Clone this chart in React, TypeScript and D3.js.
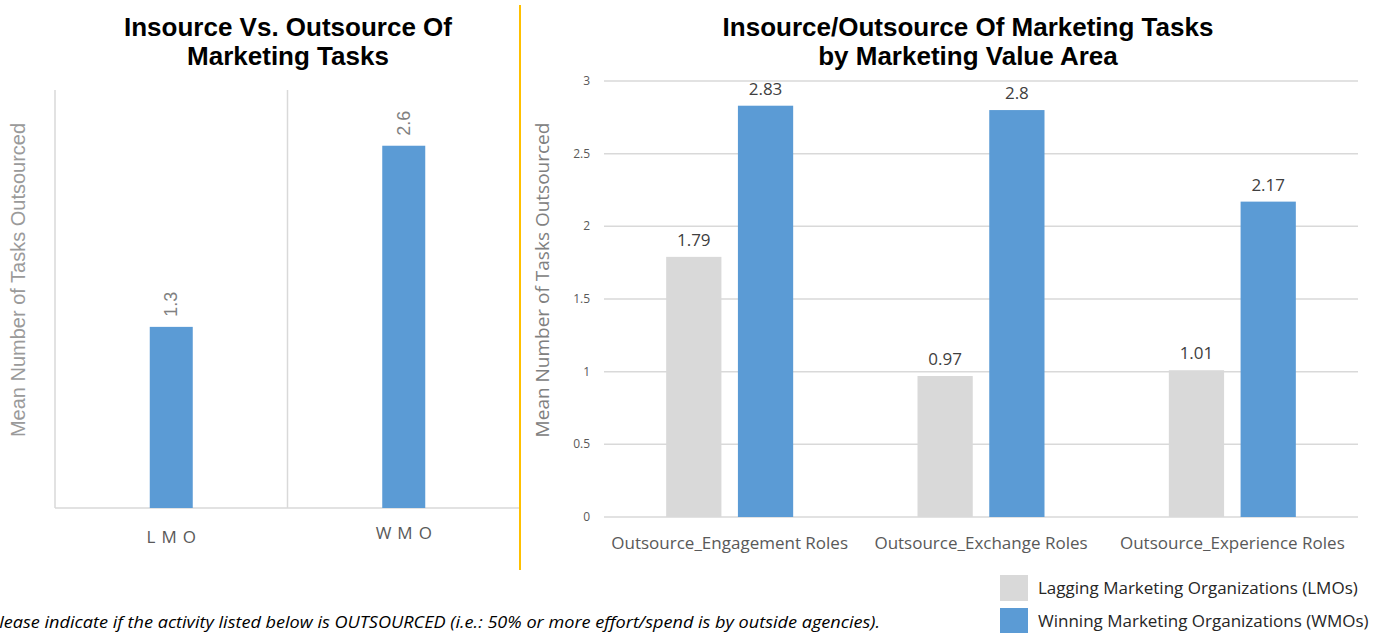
import * as d3 from 'd3';

const leftCategories = ['LMO', 'WMO'];
const leftValues = [1.3, 2.6];

const rightCategories = ['Outsource_Engagement Roles', 'Outsource_Exchange Roles', 'Outsource_Experience Roles'];
const lmoValues = [1.79, 0.97, 1.01];
const wmoValues = [2.83, 2.8, 2.17];
const seriesNames = ['Lagging Marketing Organizations (LMOs)', 'Winning Marketing Organizations (WMOs)'];
const yTicks = [0, 0.5, 1, 1.5, 2, 2.5, 3];

const BLUE = '#5B9BD5';
const GRAY = '#D9D9D9';
const TXT = '#595959';

const App = () => {
  // left chart
  const lx = d3.scaleBand().domain(leftCategories).range([55, 520]);
  const ly = d3.scaleLinear().domain([0, 3]).range([508, 90]);
  const leftBarW = 43;

  // right chart
  const rx = d3.scaleBand().domain(rightCategories).range([604, 1358]);
  const inner = d3.scaleBand().domain(['lmo', 'wmo']).range([0, 127]).paddingInner(0.23);
  const ry = d3.scaleLinear().domain([0, 3]).range([517, 81]);
  const offset = (rx.bandwidth() - 127) / 2;

  const series = [
    { key: 'lmo', values: lmoValues, color: GRAY },
    { key: 'wmo', values: wmoValues, color: BLUE },
  ];

  return (
    <svg width={1377} height={633} style={{ position: 'absolute', left: 0, top: 0, background: '#fff' }}>
      {/* titles */}
      <g fontFamily="Liberation Sans, Arial, sans-serif" fontWeight="bold" fontSize={26} fill="#000" textAnchor="middle">
        <text x={288} y={36}>Insource Vs. Outsource Of</text>
        <text x={288} y={65}>Marketing Tasks</text>
        <text x={968} y={36}>Insource/Outsource Of Marketing Tasks</text>
        <text x={968} y={65}>by Marketing Value Area</text>
      </g>

      {/* left chart frame */}
      <g stroke="#D9D9D9" strokeWidth={1.5}>
        <line x1={55} x2={55} y1={90} y2={508} />
        <line x1={lx('WMO')} x2={lx('WMO')} y1={90} y2={508} />
        <line x1={55} x2={520} y1={508} y2={508} />
      </g>
      {leftCategories.map((c, i) => {
        const cx = (lx(c) ?? 0) + lx.bandwidth() / 2;
        return (
          <g key={c}>
            <rect x={cx - leftBarW / 2} width={leftBarW} y={ly(leftValues[i])}
              height={ly(0) - ly(leftValues[i])} fill={BLUE} />
            <text transform={`translate(${cx + 6},${ly(leftValues[i]) - 10}) rotate(-90)`}
              fontFamily="Liberation Sans, Arial, sans-serif" fontSize={18} fill="#808080">
              {leftValues[i]}
            </text>
            <text x={cx + 3} y={i === 0 ? 543 : 539} textAnchor="middle" letterSpacing={6}
              fontFamily="Open Sans, sans-serif" fontSize={17} fill={TXT}>
              {c}
            </text>
          </g>
        );
      })}
      <text transform="translate(25,280) rotate(-90)" textAnchor="middle"
        fontFamily="Liberation Sans, Arial, sans-serif" fontSize={20} fill="#9a9a9a">
        Mean Number of Tasks Outsourced
      </text>

      {/* yellow divider */}
      <line x1={520} x2={520} y1={5} y2={570} stroke="#FFC000" strokeWidth={2} />

      {/* right chart */}
      <g>
        {yTicks.map(t => (
          <g key={t}>
            <line x1={604} x2={1358} y1={ry(t)} y2={ry(t)} stroke="#D9D9D9" strokeWidth={1.5} />
            <text x={590} y={ry(t) + 4} textAnchor="end" fontFamily="Open Sans, sans-serif" fontSize={12} fill={TXT}>
              {t}
            </text>
          </g>
        ))}
        {rightCategories.map((c, ci) => (
          <g key={c} transform={`translate(${(rx(c) ?? 0) + offset},0)`}>
            {series.map(s => {
              const v = s.values[ci];
              const x = inner(s.key) ?? 0;
              return (
                <g key={s.key}>
                  <rect x={x} width={inner.bandwidth()} y={ry(v)} height={ry(0) - ry(v)} fill={s.color} />
                  <text x={x + inner.bandwidth() / 2} y={ry(v) - 11} textAnchor="middle"
                    fontFamily="Open Sans, sans-serif" fontSize={17} fill="#404040">
                    {v}
                  </text>
                </g>
              );
            })}
            <text x={63.5} y={549} textAnchor="middle" fontFamily="Open Sans, sans-serif" fontSize={17} fill={TXT}>
              {c}
            </text>
          </g>
        ))}
        <text transform="translate(549,280) rotate(-90)" textAnchor="middle"
          fontFamily="Open Sans, sans-serif" fontSize={19} fill="#808080">
          Mean Number of Tasks Outsourced
        </text>
      </g>

      {/* legend */}
      {series.map((s, i) => (
        <g key={s.key} transform={`translate(1000,${575 + i * 33})`}>
          <rect width={28} height={26} fill={s.color} />
          <text x={38} y={19} fontFamily="Open Sans, sans-serif" fontSize={17} fill="#262626">
            {seriesNames[i]}
          </text>
        </g>
      ))}

      {/* footnote */}
      <text x={-11} y={628} fontFamily="Open Sans, sans-serif" fontStyle="italic" fontSize={16}
        textLength={891} lengthAdjust="spacingAndGlyphs" fill="#000">
        Please indicate if the activity listed below is OUTSOURCED (i.e.: 50% or more effort/spend is by outside agencies).
      </text>
    </svg>
  );
};

export default App;
